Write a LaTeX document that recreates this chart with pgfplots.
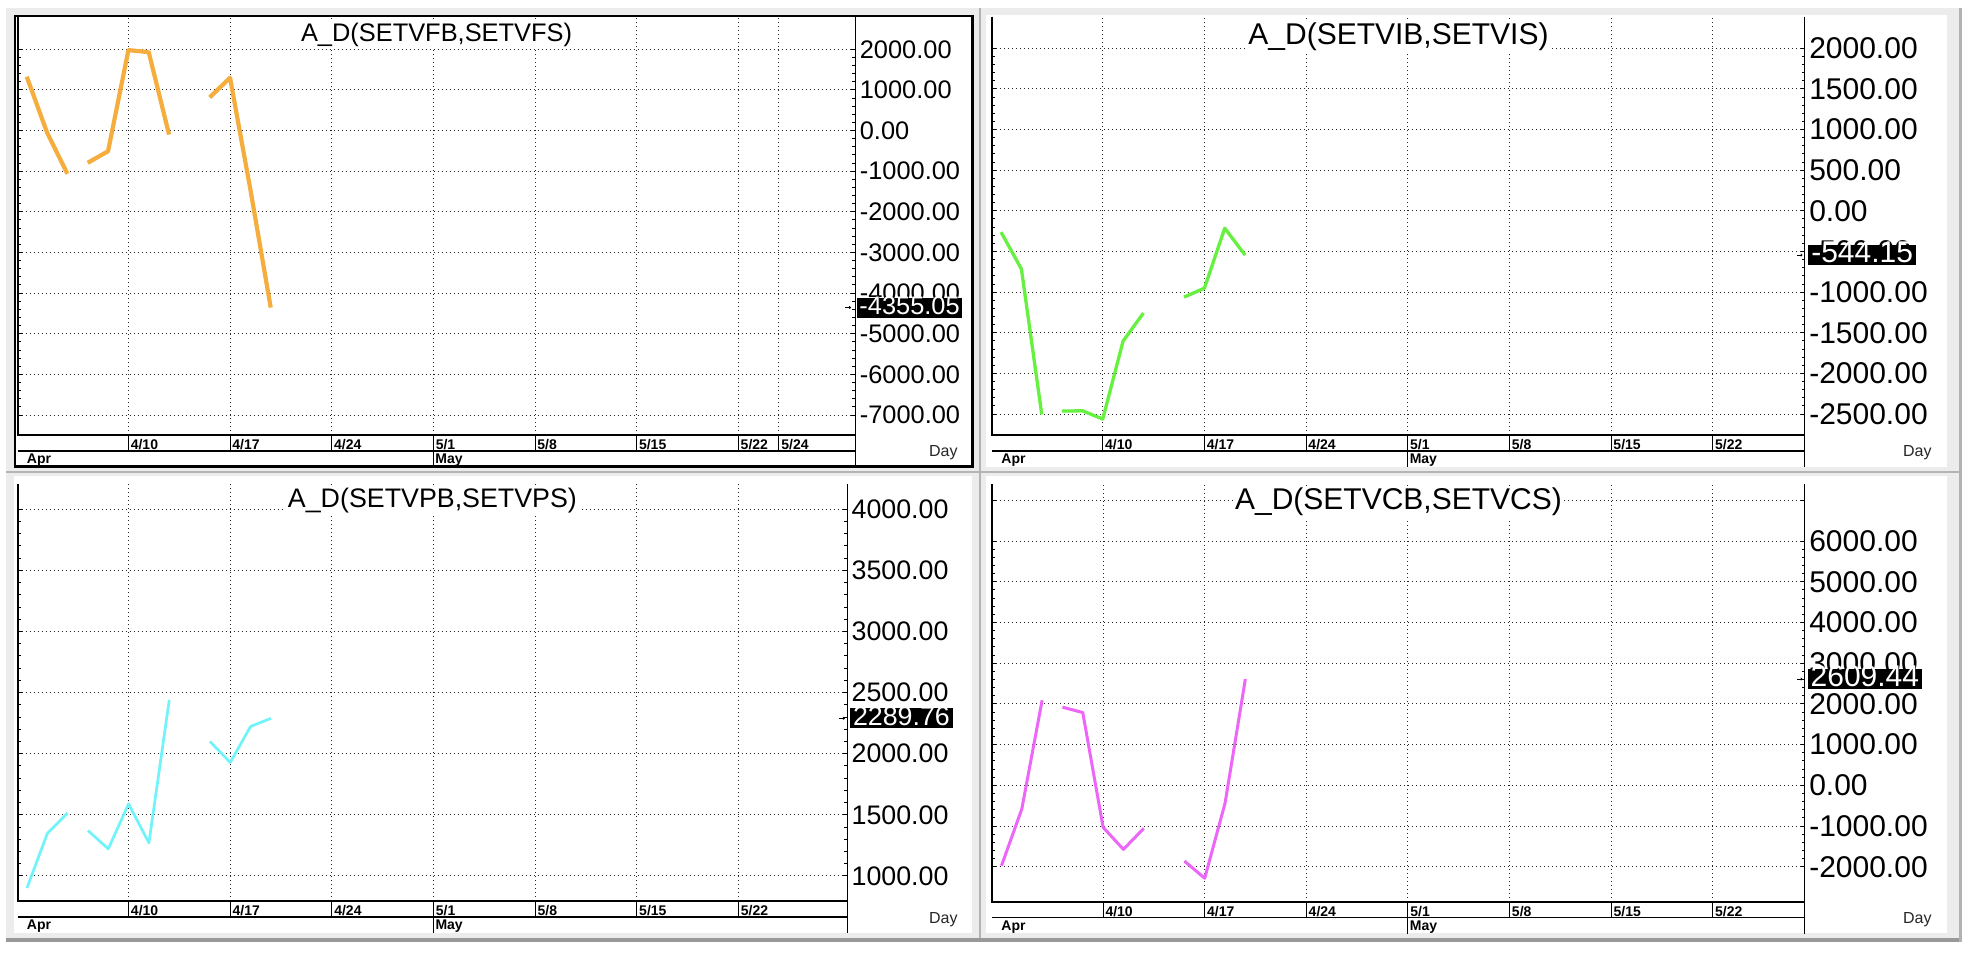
\documentclass[border=0pt]{standalone}
\usepackage{fontspec}
\setmainfont{Liberation Sans}
\usepackage{pgfplots}
\pgfplotsset{compat=1.18}
\usetikzlibrary{arrows.meta}
\definecolor{bgc}{HTML}{ECECEC}
\definecolor{sepc}{HTML}{B4B4B4}
\definecolor{c1}{HTML}{F5AD3D}
\definecolor{c2}{HTML}{66F040}
\definecolor{c3}{HTML}{70F4FA}
\definecolor{c4}{HTML}{EC66F8}

\newcommand{\datefont}{\bfseries\fontsize{7bp}{8bp}\selectfont}
\newcommand{\strip}[2]{%
  \draw[black, line width=1bp] (rel axis cs:0,1) -- (rel axis cs:0,0) -- (rel axis cs:1,0);
  \draw[black, line width=0.6bp] (rel axis cs:1,1) -- ([yshift=-16bp]rel axis cs:1,0);
  \draw[black, line width=0.6bp] ([yshift=-8bp]rel axis cs:0,0) -- ([yshift=-8bp]rel axis cs:1,0);
  \pgfplotsinvokeforeach{#2}{\draw[black, line width=0.5bp] (axis cs:##1,#1) -- ([yshift=-8bp]axis cs:##1,#1);}
  \draw[black, line width=0.5bp] (axis cs:20,#1) -- ([yshift=-16bp]axis cs:20,#1);
  \node[anchor=base west, inner sep=0pt, font=\datefont] at ([xshift=4.5bp, yshift=-14.3bp]rel axis cs:0,0) {Apr};
  \node[anchor=base west, inner sep=0pt, font=\datefont] at ([xshift=0.8bp, yshift=-14.3bp]axis cs:20,#1) {May};
}

\pgfplotsset{
 panel/.style={
  scale only axis, clip=false,
  axis line style={draw=none},
  xmajorgrids, ymajorgrids,
  grid style={black!85, line width=0.5bp, dash pattern=on 0.5bp off 1.5bp},
  xtick style={draw=none},
  xtick pos=bottom,
  ytick pos=both, yticklabel pos=right,
  tick align=inside,
  minor y tick num=4,
  major tick length=2bp, minor tick length=1.5bp,
  ytick style={black, line width=0.5bp},
  scaled y ticks=false,
  yticklabel style={anchor=west, inner sep=0pt, xshift=2bp, /pgf/number format/fixed, /pgf/number format/fixed zerofill, /pgf/number format/precision=2, /pgf/number format/1000 sep={}, /pgf/number format/assume math mode=true},
  xticklabel style={anchor=north west, inner sep=0pt, xshift=1bp, yshift=-2bp, font=\datefont},
 },
 seg/.style={line width=#1, line join=round, mark=none},
}

\begin{document}
\begin{tikzpicture}[x=0.5bp, y=-0.5bp]
\path[use as bounding box] (0,0) rectangle (1968,962);
\fill[white] (0,0) rectangle (1968,962);
\fill[bgc] (6,8) rectangle (1962,942);
\fill[black!40] (6,938) rectangle (1962,941.5);
\fill[black!30] (1958.5,8) rectangle (1961.5,942);
\draw[sepc, line width=1bp] (980,8) -- (980,938);
\draw[sepc, line width=1bp] (6,471.5) -- (1959,471.5);
% panel backgrounds
\fill[white] (14,16) rectangle (973,467);
\fill[white] (986,15) rectangle (1947,467);
\fill[white] (14,476) rectangle (972,933);
\fill[white] (986,476) rectangle (1947,933);
\draw[black, line width=1.3bp] (15,16) rectangle (972.5,466.5);

% ---------------- Panel 1 ----------------
\begin{axis}[panel, at={(8.8bp,-217.5bp)}, anchor=south west,
  width=418.9bp, height=209.15bp,
  xmin=-0.45, xmax=40.76, ymin=-7492, ymax=2802,
  xtick={5,10,15,20,25,30,35,37},
  xticklabels={4/10,4/17,4/24,5/1,5/8,5/15,5/22,5/24},
  ytick={-7000,-6000,...,2000},
  yticklabel style={font=\fontsize{12.7bp}{14bp}\selectfont}]
\addplot[c1, seg=2.1bp] coordinates {(0,1326) (1,-50) (2,-1064)};
\addplot[c1, seg=2.1bp] coordinates {(3,-793) (4,-508) (5,1980) (6,1930) (7,-98)};
\addplot[c1, seg=2.1bp] coordinates {(9,818) (10,1300) (11,-1450) (12,-4355.05)};
\strip{-7492}{5,10,15,25,30,35,37}
\coordinate (t1) at (rel axis cs:0.5,1);
\coordinate (v1) at (axis cs:40.76,-4355.05);
\end{axis}
\node[anchor=north, fill=white, inner sep=1bp, font=\fontsize{12.7bp}{15bp}\selectfont] at ([yshift=-2bp]t1) {A\_D(SETVFB,SETVFS)};
\node[fill=black, text=white, anchor=west, inner xsep=1.2bp, inner ysep=0.8bp, text height=0.78em, text depth=0.06em, font=\fontsize{12.7bp}{14bp}\selectfont] at ([xshift=0.6bp]v1) {-4355.05};
\draw[black, line width=0.4bp, -{To[length=1bp,width=1.5bp]}] ([xshift=-5bp]v1) -- ([xshift=-2.2bp]v1);
\node[anchor=base east, inner sep=0pt, text=black!85, font=\fontsize{8bp}{9bp}\selectfont] at (958,456) {Day};

% ---------------- Panel 2 ----------------
\begin{axis}[panel, at={(496bp,-217.5bp)}, anchor=south west,
  width=406.4bp, height=209.15bp,
  xmin=-0.445, xmax=39.53, ymin=-2758, ymax=2389,
  xtick={5,10,15,20,25,30,35},
  xticklabels={4/10,4/17,4/24,5/1,5/8,5/15,5/22},
  ytick={-2500,-2000,...,2000},
  yticklabel style={font=\fontsize{15bp}{17bp}\selectfont}]
\addplot[c2, seg=1.65bp] coordinates {(0,-262) (1,-716) (2,-2504)};
\addplot[c2, seg=1.65bp] coordinates {(3,-2463) (4,-2460) (5,-2561) (6,-1602) (7,-1258)};
\addplot[c2, seg=1.65bp] coordinates {(9,-1061) (10,-951) (11,-213) (12,-544.15)};
\strip{-2758}{5,10,15,25,30,35}
\coordinate (t2) at (rel axis cs:0.5,1);
\coordinate (v2) at (axis cs:39.53,-544.15);
\end{axis}
\node[anchor=north, fill=white, inner sep=1bp, font=\fontsize{15bp}{17bp}\selectfont] at ([yshift=-2bp]t2) {A\_D(SETVIB,SETVIS)};
\node[fill=black, text=white, anchor=west, inner xsep=1.5bp, inner ysep=0.8bp, text height=0.78em, text depth=0.06em, font=\fontsize{15bp}{17bp}\selectfont] at ([xshift=1.5bp]v2) {-544.15};
\draw[black, line width=0.4bp, -{To[length=1bp,width=1.5bp]}] ([xshift=-4bp]v2) -- ([xshift=-1.2bp]v2);
\node[anchor=base east, inner sep=0pt, text=black!85, font=\fontsize{8bp}{9bp}\selectfont] at (1932,456) {Day};

% ---------------- Panel 3 ----------------
\begin{axis}[panel, at={(8.8bp,-450.5bp)}, anchor=south west,
  width=414.8bp, height=208.5bp,
  xmin=-0.46, xmax=40.35, ymin=795, ymax=4207,
  xtick={5,10,15,20,25,30,35},
  xticklabels={4/10,4/17,4/24,5/1,5/8,5/15,5/22},
  ytick={1000,1500,...,4000},
  yticklabel style={font=\fontsize{13.4bp}{15bp}\selectfont}]
\addplot[c3, seg=1.35bp] coordinates {(0,902) (1,1347) (2,1516)};
\addplot[c3, seg=1.35bp] coordinates {(3,1372) (4,1222) (5,1590) (6,1271) (7,2440)};
\addplot[c3, seg=1.35bp] coordinates {(9,2101) (10,1929) (11,2223) (12,2289.76)};
\strip{795}{5,10,15,25,30,35}
\coordinate (t3) at (rel axis cs:0.5,1);
\coordinate (v3) at (axis cs:40.35,2289.76);
\end{axis}
\node[anchor=north, fill=white, inner sep=1bp, font=\fontsize{13.4bp}{15bp}\selectfont] at ([yshift=-0.6bp]t3) {A\_D(SETVPB,SETVPS)};
\node[fill=black, text=white, anchor=west, inner xsep=1.3bp, inner ysep=0.8bp, text height=0.78em, text depth=0.06em, font=\fontsize{13.4bp}{15bp}\selectfont] at ([xshift=1.4bp]v3) {2289.76};
\draw[black, line width=0.4bp, -{To[length=1bp,width=1.5bp]}] ([xshift=-4bp]v3) -- ([xshift=-1.2bp]v3);
\node[anchor=base east, inner sep=0pt, text=black!85, font=\fontsize{8bp}{9bp}\selectfont] at (958,923) {Day};

% ---------------- Panel 4 ----------------
\begin{axis}[panel, at={(496bp,-450.85bp)}, anchor=south west,
  width=406.4bp, height=208.85bp,
  xmin=-0.465, xmax=39.53, ymin=-2860, ymax=7400,
  xtick={5,10,15,20,25,30,35},
  xticklabels={4/10,4/17,4/24,5/1,5/8,5/15,5/22},
  ytick={-2000,-1000,...,6000},
  extra y ticks={7000}, extra y tick labels={},
  yticklabel style={font=\fontsize{15bp}{17bp}\selectfont}]
\addplot[c4, seg=1.5bp] coordinates {(0,-1975) (1,-582) (2,2089)};
\addplot[c4, seg=1.5bp] coordinates {(3,1919) (4,1787) (5,-1032) (6,-1574) (7,-1057)};
\addplot[c4, seg=1.5bp] coordinates {(9,-1860) (10,-2284) (11,-440) (12,2609.44)};
\strip{-2860}{5,10,15,25,30,35}
\coordinate (t4) at (rel axis cs:0.5,1);
\coordinate (v4) at (axis cs:39.53,2609.44);
\end{axis}
\node[anchor=north, fill=white, inner sep=1bp, font=\fontsize{15bp}{17bp}\selectfont] at ([yshift=-0.6bp]t4) {A\_D(SETVCB,SETVCS)};
\node[fill=black, text=white, anchor=west, inner xsep=1.5bp, inner ysep=0.8bp, text height=0.78em, text depth=0.06em, font=\fontsize{15bp}{17bp}\selectfont] at ([xshift=1.2bp]v4) {2609.44};
\draw[black, line width=0.4bp, -{To[length=1bp,width=1.5bp]}] ([xshift=-4bp]v4) -- ([xshift=-1.2bp]v4);
\node[anchor=base east, inner sep=0pt, text=black!85, font=\fontsize{8bp}{9bp}\selectfont] at (1932,923) {Day};
\end{tikzpicture}
\end{document}
